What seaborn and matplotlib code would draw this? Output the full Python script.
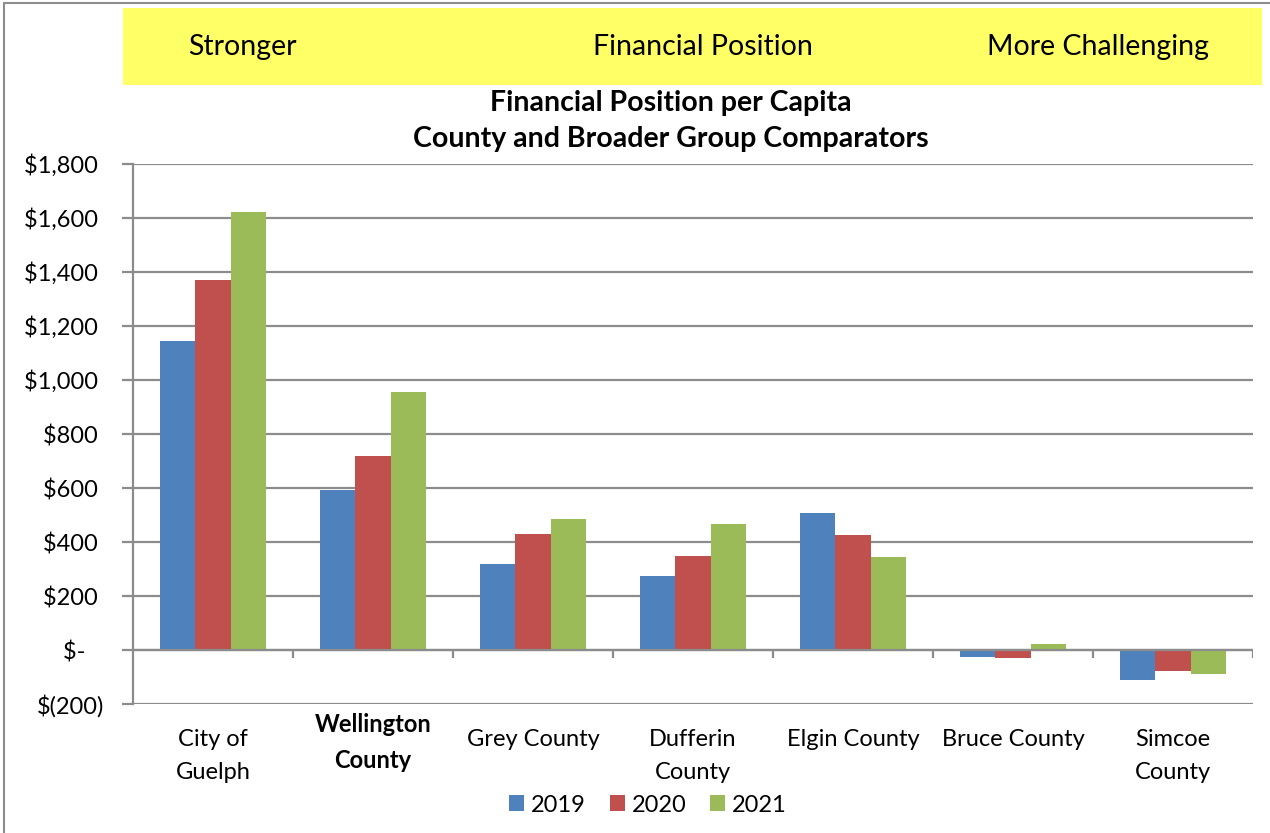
import numpy as np
import pandas as pd
import matplotlib
matplotlib.use("Agg")
import matplotlib.pyplot as plt
import matplotlib.transforms as mtransforms
import seaborn as sns
from matplotlib.patches import Rectangle

# chart data (per capita, $)
municipalities = ["City of\nGuelph", "Wellington\nCounty", "Grey County", "Dufferin\nCounty",
                  "Elgin County", "Bruce County", "Simcoe\nCounty"]
years = ["2019", "2020", "2021"]
values_2019 = [1146, 593, 318, 273, 506, -25, -112]
values_2020 = [1370, 719, 428, 347, 425, -31, -78]
values_2021 = [1621, 955, 485, 465, 343, 21, -88]
y_ticks = [-200, 0, 200, 400, 600, 800, 1000, 1200, 1400, 1600, 1800]
# accounting format: positives padded where the ")" would sit
y_tick_labels = ["$(200)", "$-   ", "$200 ", "$400 ", "$600 ", "$800 ", "$1,000 ",
                 "$1,200 ", "$1,400 ", "$1,600 ", "$1,800 "]
bar_colors = ["#4F81BD", "#C0504D", "#9BBB59"]

df = pd.DataFrame({
    "Municipality": municipalities * 3,
    "Year": [y for y in years for _ in municipalities],
    "Value": values_2019 + values_2020 + values_2021,
})

sns.set_theme(style="white")
plt.rcParams["font.family"] = ["Lato", "DejaVu Sans"]
plt.rcParams["text.color"] = "black"
plt.rcParams["xtick.color"] = "black"
plt.rcParams["ytick.color"] = "black"

fig = plt.figure(figsize=(12.7, 8.33), dpi=100)
ax = fig.add_axes([133 / 1270, 129 / 833, 1120 / 1270, 540 / 833])

sns.barplot(data=df, x="Municipality", y="Value", hue="Year", palette=bar_colors,
            width=0.66, ax=ax, edgecolor="none", saturation=1, legend=True)

grey = "#8C8C8C"
ax.set_ylim(-200, 1800)
ax.set_xlim(-0.5, len(municipalities) - 0.5)
ax.set_yticks(y_ticks)
ax.set_yticklabels(y_tick_labels, fontsize=17)
ax.yaxis.grid(True, color=grey, linewidth=1.6)
ax.set_axisbelow(True)
ax.set_xlabel("")
ax.set_ylabel("")
ax.set_xticks(range(len(municipalities)))
ax.set_xticklabels(municipalities, fontsize=17, linespacing=1.7)
ax.tick_params(axis="x", length=0, pad=18)
ax.tick_params(axis="y", length=8, width=1.6, color=grey, left=True, pad=13,
               labelcolor="black")

# Wellington label is bold and sits higher
wl = ax.get_xticklabels()[1]
wl.set_fontweight("bold")
wl.set_transform(wl.get_transform() +
                 mtransforms.ScaledTranslation(0, 16 / 100, fig.dpi_scale_trans))

for s in ["top", "right", "bottom"]:
    ax.spines[s].set_visible(False)
ax.spines["left"].set_color(grey)
ax.spines["left"].set_linewidth(1.6)

# horizontal axis at zero with category boundary ticks
ax.axhline(0, color=grey, linewidth=1.6, zorder=3)
bounds = np.arange(len(municipalities) + 1) - 0.5
ax.vlines(bounds[1:], -30, 0, color=grey, linewidth=1.6, zorder=3)

handles, labels = ax.get_legend_handles_labels()
ax.legend_.remove()
fig.legend(handles, labels, loc="center", bbox_to_anchor=(648 / 1270, 1 - 805 / 833),
           ncol=3, frameon=False, fontsize=17, handlelength=0.64, handleheight=0.64,
           handletextpad=0.3, columnspacing=1.0)

# title
fig.text(671 / 1270, 1 - 103 / 833, "Financial Position per Capita", ha="center", va="center",
         fontsize=20.5, fontweight="bold")
fig.text(671 / 1270, 1 - 139 / 833, "County and Broader Group Comparators", ha="center",
         va="center", fontsize=20.5, fontweight="bold")

# yellow banner
fig.patches.append(Rectangle((123 / 1270, 1 - 85 / 833), (1262 - 123) / 1270, 77 / 833,
                             transform=fig.transFigure, facecolor="#FFFF66", edgecolor="none"))
for label, x in [("Stronger", 242), ("Financial Position", 703), ("More Challenging", 1098)]:
    fig.text(x / 1270, 1 - 47 / 833, label, ha="center", va="center", fontsize=20.5)

# outer frame
fig.patches.append(Rectangle((4 / 1270, -0.01), 1.1, 1 - 3 / 833 + 0.01,
                             transform=fig.transFigure, facecolor="none",
                             edgecolor=grey, linewidth=1.5))

fig.savefig("out.png", dpi=100)
